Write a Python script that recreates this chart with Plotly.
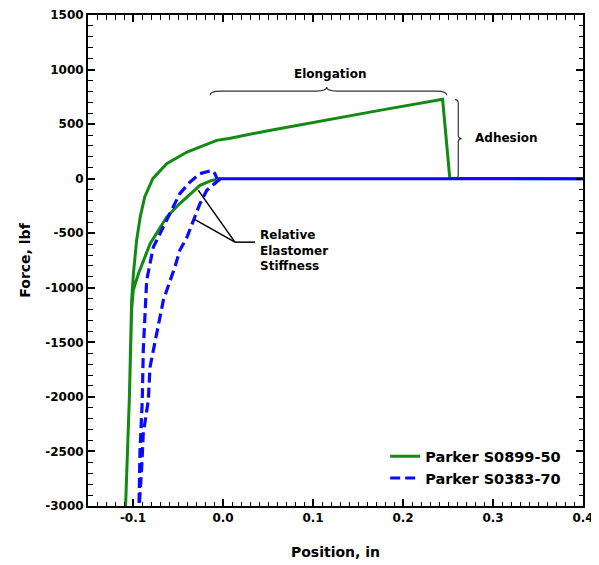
import plotly.graph_objects as go

# ---- data ----
green_name = "Parker S0899-50"
green_x = [-0.003, -0.0126, -0.0256, -0.040, -0.048, -0.0626, -0.081, -0.094, -0.0997,
           -0.1015, -0.104, -0.1085,
           -0.104, -0.1015, -0.0995, -0.096, -0.092, -0.087, -0.078, -0.0626, -0.040,
           -0.007, 0.008, 0.05, 0.1, 0.15, 0.174, 0.244, 0.252, 0.4]
green_y = [0, -16, -61, -169, -228, -352, -596, -871, -1024,
           -1200, -2000, -3060,
           -2000, -1115, -868, -566, -352, -168, 0, 138, 244,
           351, 370, 440, 516, 590, 626, 727, 3, 0]

blue_name = "Parker S0383-70"
blue_x = [-0.003, -0.018, -0.0256, -0.033, -0.040, -0.048, -0.0535, -0.0663, -0.071,
          -0.0756, -0.0811, -0.083, -0.0886, -0.0903, -0.0922, -0.0935,
          -0.0922, -0.0897, -0.0886, -0.0865, -0.0848, -0.0774, -0.0626, -0.048,
          -0.0367, -0.0256, -0.0126, -0.009, -0.0067]
blue_y = [0, -107, -229, -382, -535, -657, -810, -1115, -1300,
          -1480, -1727, -2032, -2337, -2643, -2948, -3060,
          -2489, -2032, -1574, -1250, -932, -627, -382, -137,
          -31, 46, 76, 46, 0]

blue_zero_x = [-0.005, 0.4]
blue_zero_y = [0, 0]

x_tickvals = [-0.1, 0.0, 0.1, 0.2, 0.3, 0.4]
x_ticktext = ["-0.1", "0.0", "0.1", "0.2", "0.3", "0.4"]
y_tickvals = [1500, 1000, 500, 0, -500, -1000, -1500, -2000, -2500, -3000]
y_ticktext = ["1500", "1000", "500", "0", "-500", "-1000", "-1500", "-2000", "-2500", "-3000"]

x_title = "Position, in"
y_title = "Force, lbf"

FONT = "DejaVu Sans"

fig = go.Figure()
fig.add_trace(go.Scatter(x=green_x, y=green_y, mode="lines", name=green_name,
                         line=dict(color="#138a13", width=3)))
fig.add_trace(go.Scatter(x=blue_x, y=blue_y, mode="lines", name=blue_name,
                         line=dict(color="#0a0aff", width=3.2, dash="10px,5px")))
fig.add_trace(go.Scatter(x=blue_zero_x, y=blue_zero_y, mode="lines", showlegend=False,
                         line=dict(color="#0a0aff", width=3)))

axis_common = dict(showline=True, linecolor="black", linewidth=2, mirror="allticks",
                   ticks="inside", ticklen=7, tickwidth=1.5, tickcolor="black",
                   showgrid=False, zeroline=False, automargin=False,
                   tickfont=dict(family=FONT, size=12, color="black", weight="bold"))

fig.update_xaxes(range=[-0.15, 0.4], tickmode="array", tickvals=x_tickvals, ticktext=x_ticktext,
                 minor=dict(ticks="inside", dtick=0.01, tick0=0, ticklen=4.5,
                            tickcolor="black", tickwidth=1.3, showgrid=False),
                 title=dict(text=x_title, font=dict(family=FONT, size=14, color="black", weight="bold"),
                            standoff=23),
                 **axis_common)
fig.update_yaxes(range=[-3000, 1500], tickmode="array", tickvals=y_tickvals, ticktext=y_ticktext,
                 minor=dict(ticks="inside", dtick=100, tick0=0, ticklen=4.5,
                            tickcolor="black", tickwidth=1.3, showgrid=False),
                 title=dict(text=y_title, font=dict(family=FONT, size=14, color="black", weight="bold"),
                            standoff=11),
                 **axis_common)

brace_style = dict(color="#333333", width=1.2)
shapes = [
    # Elongation brace
    dict(type="path", xref="x", yref="y", line=brace_style,
         path="M -0.0144,764 Q -0.0144,803 -0.003,803 L 0.104,803 Q 0.1152,803 0.1152,840 "
              "Q 0.1152,803 0.1264,803 L 0.237,803 Q 0.2486,803 0.2486,764"),
    # Adhesion brace
    dict(type="path", xref="x", yref="y", line=brace_style,
         path="M 0.2578,725 Q 0.2614,725 0.2614,690 L 0.2614,400 Q 0.2614,367 0.2652,367 "
              "Q 0.2614,367 0.2614,334 L 0.2614,35 Q 0.2614,0 0.2578,0"),
    # leader lines for "Relative Elastomer Stiffness"
    dict(type="line", xref="x", yref="y", x0=0.0356, y0=-582, x1=0.0133, y1=-582,
         line=dict(color="black", width=1.5)),
    dict(type="line", xref="x", yref="y", x0=0.0133, y0=-582, x1=-0.0274, y1=-107,
         line=dict(color="black", width=1.5)),
    dict(type="line", xref="x", yref="y", x0=0.0133, y0=-582, x1=-0.0311, y1=-376,
         line=dict(color="black", width=1.5)),
]

ann_font = dict(family=FONT, size=12, color="black", weight="bold")
annotations = [
    dict(x=0.119, y=963, xref="x", yref="y", text="Elongation", showarrow=False, font=ann_font),
    dict(x=0.3152, y=376, xref="x", yref="y", text="Adhesion", showarrow=False, font=ann_font),
    dict(x=0.0392, y=-658, xref="x", yref="y", text="Relative<br>Elastomer<br>Stiffness",
         showarrow=False, xanchor="left", align="left", font=ann_font),
]

# page body has an 8px margin, so the figure is made 8px smaller on each axis
fig.update_layout(
    width=591, height=557,
    margin=dict(l=80, r=16, t=7, b=59),
    paper_bgcolor="white", plot_bgcolor="white",
    shapes=shapes, annotations=annotations,
    showlegend=True,
    legend=dict(x=0.966, y=0.024, xanchor="right", yanchor="bottom",
                bgcolor="rgba(0,0,0,0)", borderwidth=0,
                font=dict(family=FONT, size=14.5, color="black", weight="bold"),
                tracegroupgap=0),
)

fig.write_html("out.html")
